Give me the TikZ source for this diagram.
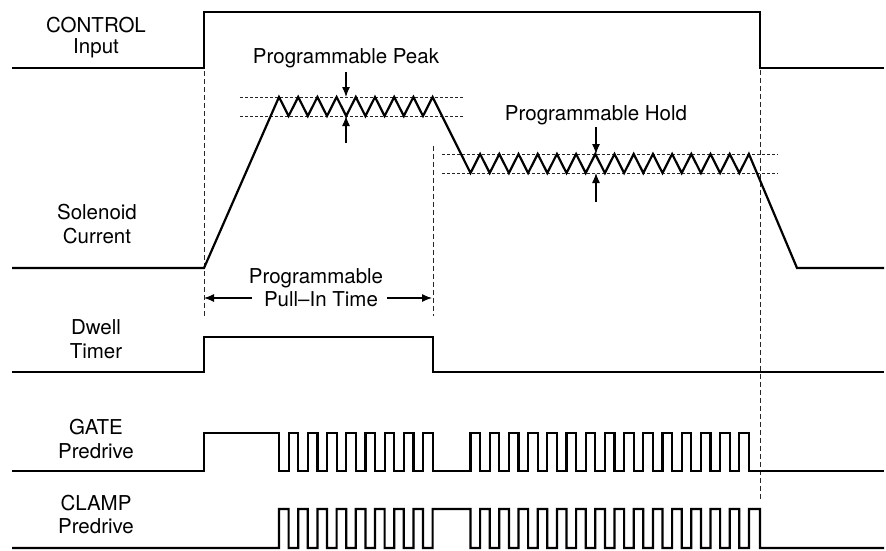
\documentclass[tikz,border=0pt]{standalone}
\usepackage{fontspec}
\setmainfont{TeX Gyre Heros}
\usetikzlibrary{arrows.meta}
\begin{document}
\begin{tikzpicture}[x=1pt,y=-1pt,
  sig/.style={line width=2.2pt,line join=miter},
  guide/.style={line width=1pt,dash pattern=on 5pt off 3pt,black!85},
  hguide/.style={line width=1pt,dash pattern=on 3pt off 2pt,black!85},
  arr/.style={line width=1.2pt,-{Latex[length=10pt,width=8pt]}},
  lbl/.style={inner sep=0pt,anchor=base,font=\fontsize{20.5}{24}\selectfont}]
\useasboundingbox (0,0) rectangle (886,550);
% left labels
\node[lbl] (l1a) at (96,32) {CONTROL};
\node[lbl] (l1b) at (96,53) {Input};
\node[lbl] (l2a) at (97,219) {Solenoid};
\node[lbl] (l2b) at (97,243) {Current};
\node[lbl] (l3a) at (96,334) {Dwell};
\node[lbl] (l3b) at (96,358) {Timer};
\node[lbl] (l4a) at (96,434) {GATE};
\node[lbl] (l4b) at (96,458) {Predrive};
\node[lbl] (l5a) at (96,510) {CLAMP};
\node[lbl] (l5b) at (96,533) {Predrive};
% guides
\coordinate (g1t) at (204,71); \coordinate (g1b) at (204,316);
\coordinate (g2t) at (433,146); \coordinate (g2b) at (433,316);
\coordinate (g3t) at (760,70); \coordinate (g3b) at (760,500);
\draw[guide] (g1t) -- (g1b);
\draw[guide] (g2t) -- (g2b);
\draw[guide] (g3t) -- (g3b);
\coordinate (pk1l) at (240,97); \coordinate (pk1r) at (463,97);
\coordinate (pk2l) at (240,116); \coordinate (pk2r) at (463,116);
\coordinate (hd1l) at (442,154); \coordinate (hd1r) at (778,154);
\coordinate (hd2l) at (442,173); \coordinate (hd2r) at (778,173);
\draw[hguide] (pk1l) -- (pk1r);
\draw[hguide] (pk2l) -- (pk2r);
\draw[hguide] (hd1l) -- (hd1r);
\draw[hguide] (hd2l) -- (hd2r);
% CONTROL
\draw[sig] (12,68) -- (204,68) -- (204,12) -- (760,12) -- (760,68) -- (884,68);
% Solenoid current
\draw[sig] (12,268) -- (204,268) -- (279,97)
  \foreach \k in {0,...,7}{ -- ({288.6+19.2*\k},116) -- ({298.2+19.2*\k},97)}
  -- (470.5,173)
  \foreach \k in {0,...,13}{ -- ({480.1+19.2*\k},154) -- ({489.7+19.2*\k},173)}
  -- (748.9,154) -- (797,268) -- (884,268);
% Dwell timer
\draw[sig] (12,372) -- (204,372) -- (204,337) -- (433,337) -- (433,372) -- (884,372);
% GATE predrive
\draw[sig] (12,471) -- (204,471) -- (204,433) -- (279,433) -- (279,471)
  \foreach \k in {0,...,7}{ -- ({288.6+19.2*\k},471) -- ({288.6+19.2*\k},433)
     -- ({298.2+19.2*\k},433) -- ({298.2+19.2*\k},471)}
  \foreach \k in {0,...,14}{ -- ({470.5+19.2*\k},471) -- ({470.5+19.2*\k},433)
     -- ({480.1+19.2*\k},433) -- ({480.1+19.2*\k},471)}
  -- (884,471);
% CLAMP predrive
\draw[sig] (12,548) -- (279,548)
  \foreach \k in {0,...,7}{ -- ({279+19.2*\k},509) -- ({288.6+19.2*\k},509)
     -- ({288.6+19.2*\k},548) -- ({298.2+19.2*\k},548)}
  -- (432.6,509) -- (470.5,509) -- (470.5,548)
  \foreach \k in {0,...,13}{ -- ({480.1+19.2*\k},548) -- ({480.1+19.2*\k},509)
     -- ({489.7+19.2*\k},509) -- ({489.7+19.2*\k},548)}
  -- (748.9,548) -- (748.9,509) -- (760,509) -- (760,548) -- (884,548);
% Programmable Peak
\node[lbl] (peak) at (346,63) {Programmable Peak};
\coordinate (pka) at (346,72); \coordinate (pkb) at (346,143);
\coordinate (pkat) at (346,97); \coordinate (pkbt) at (346,116);
\draw[arr] (pka) -- (pkat);
\draw[arr] (pkb) -- (pkbt);
% Programmable Hold
\node[lbl] (hold) at (596,120) {Programmable Hold};
\coordinate (hda) at (596,127); \coordinate (hdb) at (596,202);
\coordinate (hdat) at (596,154); \coordinate (hdbt) at (596,173);
\draw[arr] (hda) -- (hdat);
\draw[arr] (hdb) -- (hdbt);
% Pull-in time
\node[lbl] (pull1) at (316,283) {Programmable};
\node[lbl] (pull2) at (321,306) {Pull--In Time};
\coordinate (pl) at (252,298); \coordinate (plt) at (204,298);
\coordinate (pr) at (387,298); \coordinate (prt) at (432,298);
\draw[arr] (pl) -- (plt);
\draw[arr] (pr) -- (prt);
\end{tikzpicture}
\end{document}
